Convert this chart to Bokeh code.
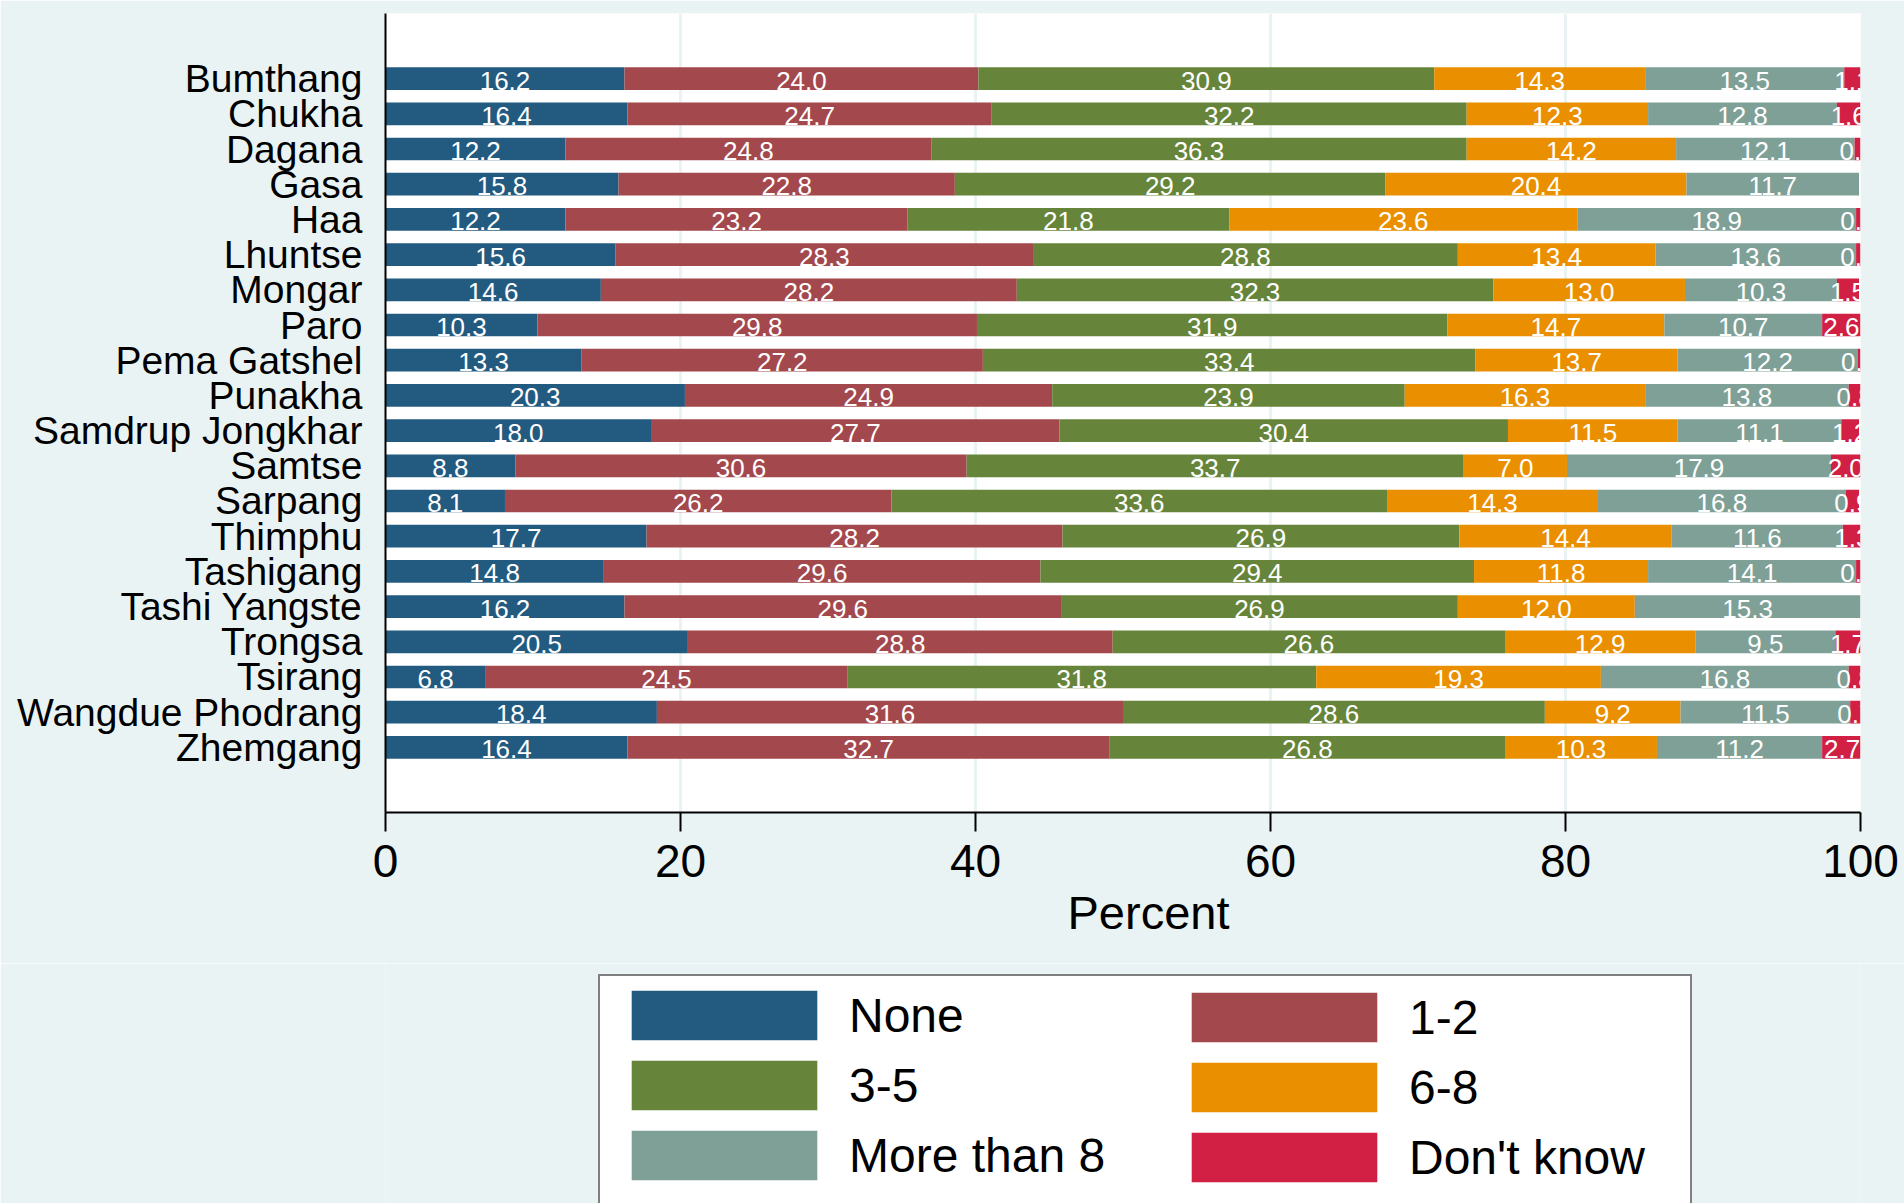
from bokeh.plotting import figure
from bokeh.models import Range1d, FixedTicker, Legend, LegendItem, ColumnDataSource, Title
from bokeh.layouts import column
from bokeh.core.properties import value
from bokeh.embed import file_html
from bokeh.resources import INLINE

# ---- data ----
districts = ["Bumthang", "Chukha", "Dagana", "Gasa", "Haa", "Lhuntse", "Mongar",
             "Paro", "Pema Gatshel", "Punakha", "Samdrup Jongkhar", "Samtse",
             "Sarpang", "Thimphu", "Tashigang", "Tashi Yangste", "Trongsa",
             "Tsirang", "Wangdue Phodrang", "Zhemgang"]
none_ = [16.2, 16.4, 12.2, 15.8, 12.2, 15.6, 14.6, 10.3, 13.3, 20.3,
         18.0, 8.8, 8.1, 17.7, 14.8, 16.2, 20.5, 6.8, 18.4, 16.4]
one_two = [24.0, 24.7, 24.8, 22.8, 23.2, 28.3, 28.2, 29.8, 27.2, 24.9,
           27.7, 30.6, 26.2, 28.2, 29.6, 29.6, 28.8, 24.5, 31.6, 32.7]
three_five = [30.9, 32.2, 36.3, 29.2, 21.8, 28.8, 32.3, 31.9, 33.4, 23.9,
              30.4, 33.7, 33.6, 26.9, 29.4, 26.9, 26.6, 31.8, 28.6, 26.8]
six_eight = [14.3, 12.3, 14.2, 20.4, 23.6, 13.4, 13.0, 14.7, 13.7, 16.3,
             11.5, 7.0, 14.3, 14.4, 11.8, 12.0, 12.9, 19.3, 9.2, 10.3]
more_than_8 = [13.5, 12.8, 12.1, 11.7, 18.9, 13.6, 10.3, 10.7, 12.2, 13.8,
               11.1, 17.9, 16.8, 11.6, 14.1, 15.3, 9.5, 16.8, 11.5, 11.2]
dont_know = [1.1, 1.6, 0.4, 0.0, 0.3, 0.3, 1.5, 2.6, 0.2, 0.8,
             1.2, 2.0, 0.9, 1.3, 0.3, 0.0, 1.7, 0.8, 0.7, 2.7]
series_names = ["None", "1-2", "3-5", "6-8", "More than 8", "Don't know"]
series_values = [none_, one_two, three_five, six_eight, more_than_8, dont_know]
colors = ["#235B80", "#A3494D", "#66853A", "#EA8F00", "#7FA096", "#D12044"]
x_ticks = [0, 20, 40, 60, 80, 100]
x_title = "Percent"

FONT = "Liberation Sans"
BG = "#EAF3F3"
n = len(districts)
ys = list(range(n))

W = 1904
H1 = 963
H2 = 1203 - H1
FL, FR = 385, 44   # frame borders (left/right) in pixels

p = figure(width=W, height=H1, output_backend="svg", toolbar_location=None,
           x_range=Range1d(0, 100), y_range=Range1d(n - 1 + 1.85, -1.85),
           min_border_left=FL, min_border_right=FR, min_border_top=13,
           min_border_bottom=H1 - 812)
p.background_fill_color = "white"
p.border_fill_color = BG
p.outline_line_color = None

# bars + value labels
sources = []
cum = [0.0] * n
for name, vals, col in zip(series_names, series_values, colors):
    left = list(cum)
    right = [a + b for a, b in zip(cum, vals)]
    src = ColumnDataSource(dict(y=ys, left=left, right=right))
    sources.append(src)
    p.hbar(y="y", left="left", right="right", height=0.645, source=src,
           fill_color=col, line_color=None)
    lx, ly, lt = [], [], []
    for i in range(n):
        if vals[i] > 0:
            lx.append((left[i] + right[i]) / 2)
            ly.append(ys[i])
            lt.append(f"{vals[i]:.1f}")
    lsrc = ColumnDataSource(dict(x=lx, y=ly, text=lt))
    p.text(x="x", y="y", text="text", source=lsrc, text_color="white",
           text_font=value(FONT), text_font_size="26px", text_align="center",
           text_baseline="middle", y_offset=2)
    cum = right

# axes
p.xaxis.ticker = FixedTicker(ticks=x_ticks)
p.xaxis.major_label_text_font = FONT
p.xaxis.major_label_text_font_size = "46px"
p.xaxis.major_label_text_color = "black"
p.xaxis.major_label_standoff = 13
p.xaxis.major_tick_out = 19
p.xaxis.major_tick_in = 0
p.xaxis.major_tick_line_width = 2
p.xaxis.major_tick_line_color = "black"
p.xaxis.minor_tick_line_color = None
p.xaxis.axis_line_width = 2
p.xaxis.axis_line_color = "black"

# x-axis title (slightly right of the frame centre, as in the original)
p.add_layout(Title(text=x_title, align="left", offset=682, standoff=9,
                   text_font=FONT, text_font_size="47px",
                   text_font_style="normal", text_color="black"), "below")

p.yaxis.ticker = FixedTicker(ticks=ys)
p.yaxis.major_label_overrides = {i: d for i, d in enumerate(districts)}
p.yaxis.major_label_text_font = FONT
p.yaxis.major_label_text_font_size = "39px"
p.yaxis.major_label_text_color = "black"
p.yaxis.major_label_standoff = 17
p.yaxis.major_tick_line_color = None
p.yaxis.minor_tick_line_color = None
p.yaxis.axis_line_width = 2
p.yaxis.axis_line_color = "black"

p.xgrid.grid_line_color = BG
p.xgrid.grid_line_width = 3
p.ygrid.grid_line_color = None

# ---- legend strip below the chart ----
# same data sources, but the strip's y-range keeps the bars out of view,
# so only the legend swatches are visible.
p2 = figure(width=W, height=H2, output_backend="svg", toolbar_location=None,
            x_axis_location=None, y_axis_location=None,
            x_range=Range1d(0, 100), y_range=Range1d(1000, 1001),
            min_border_left=FL, min_border_right=FR, min_border_top=0,
            min_border_bottom=0)
p2.background_fill_color = BG
p2.border_fill_color = BG
p2.outline_line_color = None
p2.xgrid.grid_line_color = None
p2.ygrid.grid_line_color = None

swatches = []
for src, col in zip(sources, colors):
    r = p2.hbar(y="y", left="left", right="right", height=0.5, source=src,
                fill_color=col, line_color=None)
    swatches.append(r)
filler = p2.hbar(y="y", left="left", right="right", height=0.5, source=sources[0],
                 fill_alpha=0, line_alpha=0)


def make_legend(items, loc, bordered, lw):
    lg = Legend(items=items, location=loc, orientation="vertical", margin=0,
                padding=8, spacing=8, glyph_width=232, glyph_height=62,
                label_standoff=9, label_width=lw, label_height=40,
                label_text_font=FONT, label_text_font_size="48px",
                label_text_color="black")
    if bordered:
        lg.border_line_color = "black"
        lg.border_line_width = 2
        lg.background_fill_color = "white"
        lg.background_fill_alpha = 1.0
    else:
        lg.border_line_alpha = 0
        lg.background_fill_alpha = 0
    return lg


items_a = [LegendItem(label=series_names[i], renderers=[swatches[i]]) for i in (0, 2, 4)]
items_a.append(LegendItem(label=" ", renderers=[filler]))
items_b = [LegendItem(label=series_names[i], renderers=[swatches[i]]) for i in (1, 3, 5)]

legA = make_legend(items_a, (598 - FL, H2 - (15 + 288)), True, 833)
legB = make_legend(items_b, (1160 - FL, H2 - (15 + 218)), False, 200)
p2.add_layout(legA, "center")
p2.add_layout(legB, "center")

layout = column(p, p2, spacing=0)
open("out.html", "w").write(file_html(layout, INLINE))
